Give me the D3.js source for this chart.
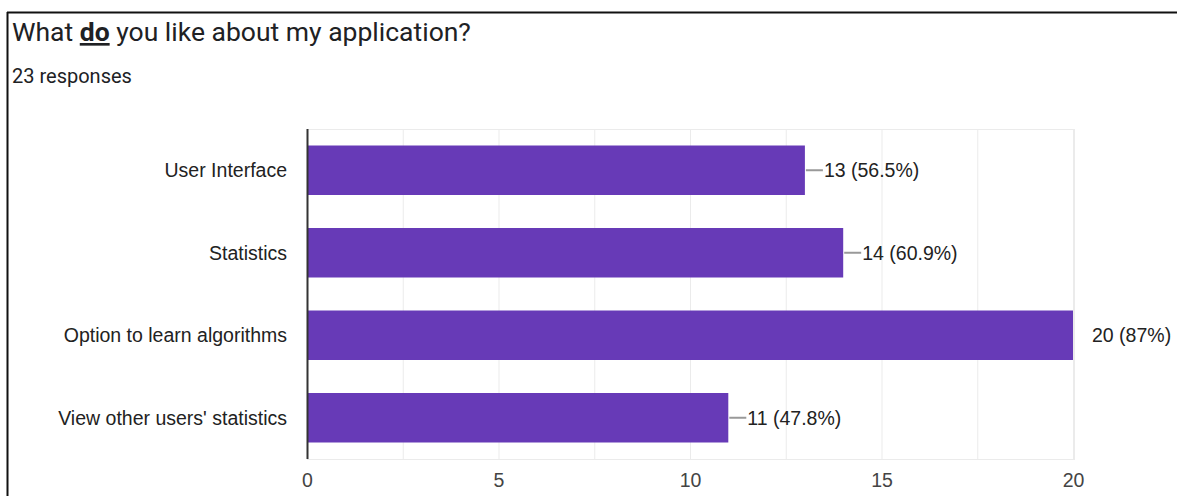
<!DOCTYPE html>
<html>
<head>
<meta charset="utf-8">
<script src="https://cdn.jsdelivr.net/npm/d3@7"></script>
<style>
  body { margin: 0; background: #fff; }
  svg { display: block; }
</style>
</head>
<body>
<script>
var categories = ["User Interface", "Statistics", "Option to learn algorithms", "View other users' statistics"];
var counts = [13, 14, 20, 11];
var percents = ["56.5%", "60.9%", "87%", "47.8%"];
var xTicks = [0, 5, 10, 15, 20];
var gridTicks = [0, 2.5, 5, 7.5, 10, 12.5, 15, 17.5, 20];
var responses = 23;

var W = 1177, H = 496;
var margin = {top: 129, left: 307, right: W - 1073, bottom: H - 459};
var width = W - margin.left - margin.right;
var height = H - margin.top - margin.bottom;
var chartFont = "Arial, 'Liberation Sans', sans-serif";
var chartSize = "19.5px";

var data = categories.map(function(c, i) {
  return {name: c, value: counts[i], pct: percents[i]};
});

var svg = d3.select("body").append("svg")
    .attr("width", W)
    .attr("height", H);

// card border (top + left)
svg.append("line")
    .attr("x1", 7).attr("x2", W).attr("y1", 12.5).attr("y2", 12.5)
    .attr("stroke", "#111").attr("stroke-width", 2);
svg.append("line")
    .attr("x1", 7.5).attr("x2", 7.5).attr("y1", 12).attr("y2", H)
    .attr("stroke", "#111").attr("stroke-width", 2);

// title
var title = svg.append("text")
    .attr("x", 12).attr("y", 41)
    .style("font-family", "Roboto, sans-serif")
    .style("font-size", "26.5px")
    .attr("fill", "#202124");
title.append("tspan").text("What ");
title.append("tspan").text("do")
    .style("font-weight", "bold")
    .style("text-decoration", "underline");
title.append("tspan").text(" you like about my application?");

svg.append("text")
    .attr("x", 12).attr("y", 83)
    .style("font-family", "Roboto, sans-serif")
    .style("font-size", "20px")
    .attr("fill", "#202124")
    .text(responses + " responses");

var x = d3.scaleLinear().domain([0, 20]).range([0, width]);
var y = d3.scaleBand().domain(categories).range([0, height])
    .paddingInner(0.4).paddingOuter(0.2);

var g = svg.append("g")
    .attr("transform", "translate(" + margin.left + "," + margin.top + ")");

svg.append("defs").append("clipPath").attr("id", "plotClip")
  .append("rect")
    .attr("x", margin.left).attr("y", margin.top)
    .attr("width", width).attr("height", height);

// gridlines
g.selectAll(".grid")
    .data(gridTicks)
    .enter().append("line")
    .attr("class", "grid")
    .attr("x1", function(d) { return x(d) + 0.5; })
    .attr("x2", function(d) { return x(d) + 0.5; })
    .attr("y1", 0).attr("y2", height)
    .attr("stroke", "#ebebeb").attr("stroke-width", 1);

g.append("rect")
    .attr("x", 0.5).attr("y", 0.5)
    .attr("width", width + 1).attr("height", height)
    .attr("fill", "none").attr("stroke", "#ebebeb");

// bars
g.selectAll(".bar")
    .data(data)
    .enter().append("rect")
    .attr("class", "bar")
    .attr("x", x(0))
    .attr("y", function(d) { return y(d.name); })
    .attr("width", function(d) { return x(d.value) - x(0); })
    .attr("height", y.bandwidth())
    .attr("fill", "#673ab7");

// leader lines (clipped to plot)
svg.append("g")
    .attr("clip-path", "url(#plotClip)")
  .append("g")
    .attr("transform", "translate(" + margin.left + "," + margin.top + ")")
  .selectAll("line")
    .data(data)
    .enter().append("line")
    .attr("x1", function(d) { return x(d.value) + 1; })
    .attr("x2", function(d) { return x(d.value) + 18; })
    .attr("y1", function(d) { return y(d.name) + y.bandwidth() / 2; })
    .attr("y2", function(d) { return y(d.name) + y.bandwidth() / 2; })
    .attr("stroke", "#999").attr("stroke-width", 2);

// value labels
g.selectAll(".val")
    .data(data)
    .enter().append("text")
    .attr("class", "val")
    .attr("x", function(d) { return x(d.value) + 19; })
    .attr("y", function(d) { return y(d.name) + y.bandwidth() / 2; })
    .attr("dy", "0.35em")
    .style("font-family", chartFont)
    .style("font-size", chartSize)
    .attr("fill", "#222")
    .text(function(d) { return d.value + " (" + d.pct + ")"; });

// category labels
g.selectAll(".cat")
    .data(categories)
    .enter().append("text")
    .attr("class", "cat")
    .attr("x", -20)
    .attr("y", function(d) { return y(d) + y.bandwidth() / 2; })
    .attr("dy", "0.35em")
    .attr("text-anchor", "end")
    .style("font-family", chartFont)
    .style("font-size", chartSize)
    .attr("fill", "#222")
    .text(function(d) { return d; });

// x axis
var xAxis = d3.axisBottom(x).tickValues(xTicks).tickSize(0).tickPadding(14);
var ax = g.append("g")
    .attr("transform", "translate(0," + height + ")")
    .call(xAxis);
ax.select(".domain").remove();
ax.selectAll("text")
    .style("font-family", chartFont)
    .style("font-size", chartSize)
    .attr("fill", "#444");

// y axis line
g.append("line")
    .attr("x1", 0.5).attr("x2", 0.5)
    .attr("y1", 0).attr("y2", height)
    .attr("stroke", "#333").attr("stroke-width", 2);
</script>
</body>
</html>
